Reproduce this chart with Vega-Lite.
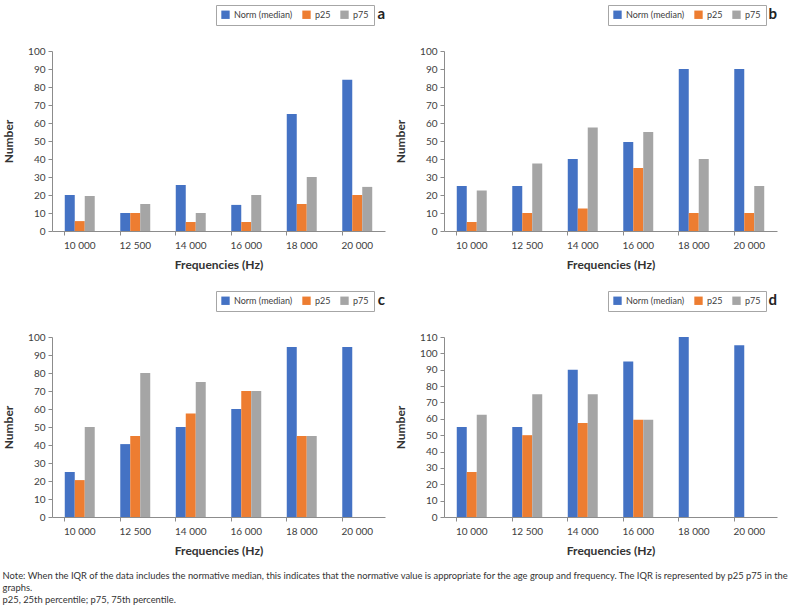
{
  "$schema": "https://vega.github.io/schema/vega-lite/v6.json",
  "padding": {"left": 2, "top": 4, "right": 0, "bottom": 0},
  "background": "white",
  "datasets": {
    "rows": [
      {"panel": "a", "freq": "10 000", "series": "Norm (median)", "value": 20},
      {"panel": "a", "freq": "10 000", "series": "p25", "value": 5.5},
      {"panel": "a", "freq": "10 000", "series": "p75", "value": 19.5},
      {"panel": "a", "freq": "12 500", "series": "Norm (median)", "value": 10},
      {"panel": "a", "freq": "12 500", "series": "p25", "value": 10},
      {"panel": "a", "freq": "12 500", "series": "p75", "value": 15},
      {"panel": "a", "freq": "14 000", "series": "Norm (median)", "value": 25.5},
      {"panel": "a", "freq": "14 000", "series": "p25", "value": 5},
      {"panel": "a", "freq": "14 000", "series": "p75", "value": 10},
      {"panel": "a", "freq": "16 000", "series": "Norm (median)", "value": 14.5},
      {"panel": "a", "freq": "16 000", "series": "p25", "value": 5},
      {"panel": "a", "freq": "16 000", "series": "p75", "value": 20},
      {"panel": "a", "freq": "18 000", "series": "Norm (median)", "value": 65},
      {"panel": "a", "freq": "18 000", "series": "p25", "value": 15},
      {"panel": "a", "freq": "18 000", "series": "p75", "value": 30},
      {"panel": "a", "freq": "20 000", "series": "Norm (median)", "value": 84},
      {"panel": "a", "freq": "20 000", "series": "p25", "value": 20},
      {"panel": "a", "freq": "20 000", "series": "p75", "value": 24.5},

      {"panel": "b", "freq": "10 000", "series": "Norm (median)", "value": 25},
      {"panel": "b", "freq": "10 000", "series": "p25", "value": 5},
      {"panel": "b", "freq": "10 000", "series": "p75", "value": 22.5},
      {"panel": "b", "freq": "12 500", "series": "Norm (median)", "value": 25},
      {"panel": "b", "freq": "12 500", "series": "p25", "value": 10},
      {"panel": "b", "freq": "12 500", "series": "p75", "value": 37.5},
      {"panel": "b", "freq": "14 000", "series": "Norm (median)", "value": 40},
      {"panel": "b", "freq": "14 000", "series": "p25", "value": 12.5},
      {"panel": "b", "freq": "14 000", "series": "p75", "value": 57.5},
      {"panel": "b", "freq": "16 000", "series": "Norm (median)", "value": 49.5},
      {"panel": "b", "freq": "16 000", "series": "p25", "value": 35},
      {"panel": "b", "freq": "16 000", "series": "p75", "value": 55},
      {"panel": "b", "freq": "18 000", "series": "Norm (median)", "value": 90},
      {"panel": "b", "freq": "18 000", "series": "p25", "value": 10},
      {"panel": "b", "freq": "18 000", "series": "p75", "value": 40},
      {"panel": "b", "freq": "20 000", "series": "Norm (median)", "value": 90},
      {"panel": "b", "freq": "20 000", "series": "p25", "value": 10},
      {"panel": "b", "freq": "20 000", "series": "p75", "value": 25},

      {"panel": "c", "freq": "10 000", "series": "Norm (median)", "value": 25},
      {"panel": "c", "freq": "10 000", "series": "p25", "value": 20.5},
      {"panel": "c", "freq": "10 000", "series": "p75", "value": 50},
      {"panel": "c", "freq": "12 500", "series": "Norm (median)", "value": 40.5},
      {"panel": "c", "freq": "12 500", "series": "p25", "value": 45},
      {"panel": "c", "freq": "12 500", "series": "p75", "value": 80},
      {"panel": "c", "freq": "14 000", "series": "Norm (median)", "value": 50},
      {"panel": "c", "freq": "14 000", "series": "p25", "value": 57.5},
      {"panel": "c", "freq": "14 000", "series": "p75", "value": 75},
      {"panel": "c", "freq": "16 000", "series": "Norm (median)", "value": 60},
      {"panel": "c", "freq": "16 000", "series": "p25", "value": 70},
      {"panel": "c", "freq": "16 000", "series": "p75", "value": 70},
      {"panel": "c", "freq": "18 000", "series": "Norm (median)", "value": 94.5},
      {"panel": "c", "freq": "18 000", "series": "p25", "value": 45},
      {"panel": "c", "freq": "18 000", "series": "p75", "value": 45},
      {"panel": "c", "freq": "20 000", "series": "Norm (median)", "value": 94.5},

      {"panel": "d", "freq": "10 000", "series": "Norm (median)", "value": 55},
      {"panel": "d", "freq": "10 000", "series": "p25", "value": 27.5},
      {"panel": "d", "freq": "10 000", "series": "p75", "value": 62.5},
      {"panel": "d", "freq": "12 500", "series": "Norm (median)", "value": 55},
      {"panel": "d", "freq": "12 500", "series": "p25", "value": 50},
      {"panel": "d", "freq": "12 500", "series": "p75", "value": 75},
      {"panel": "d", "freq": "14 000", "series": "Norm (median)", "value": 90},
      {"panel": "d", "freq": "14 000", "series": "p25", "value": 57.5},
      {"panel": "d", "freq": "14 000", "series": "p75", "value": 75},
      {"panel": "d", "freq": "16 000", "series": "Norm (median)", "value": 95},
      {"panel": "d", "freq": "16 000", "series": "p25", "value": 59.5},
      {"panel": "d", "freq": "16 000", "series": "p75", "value": 59.5},
      {"panel": "d", "freq": "18 000", "series": "Norm (median)", "value": 110},
      {"panel": "d", "freq": "20 000", "series": "Norm (median)", "value": 105}
    ]
  },
  "title": {
    "text": [
      "Note: When the IQR of the data includes the normative median, this indicates that the normative value is appropriate for the age group and frequency. The IQR is represented by p25 p75 in the",
      "graphs.",
      "p25, 25th percentile; p75, 75th percentile."
    ],
    "orient": "bottom",
    "anchor": "start",
    "frame": "bounds",
    "fontSize": 9.35,
    "fontWeight": "normal",
    "font": "Lato",
    "color": "#333333",
    "lineHeight": 12,
    "offset": 16
  },
  "columns": 2,
  "spacing": {"row": 20, "column": 9},
  "concat": [
    {
      "width": 333, "height": 180,
      "data": {"name": "rows"},
      "transform": [{"filter": "datum.panel === 'a'"}],
      "title": {"text": "a"},
      "mark": {"type": "bar"},
      "encoding": {
        "x": {"field": "freq", "type": "nominal", "sort": ["10 000", "12 500", "14 000", "16 000", "18 000", "20 000"], "scale": {"paddingInner": 0.46, "paddingOuter": 0.23}, "axis": {"title": "Frequencies (Hz)", "labelAngle": 0, "bandPosition": 0}},
        "xOffset": {"field": "series", "type": "nominal", "scale": {"domain": ["Norm (median)", "p25", "p75"]}},
        "y": {"field": "value", "type": "quantitative", "scale": {"domain": [0, 100]}, "axis": {"title": "Number", "values": [0, 10, 20, 30, 40, 50, 60, 70, 80, 90, 100]}},
        "color": {"field": "series", "type": "nominal", "scale": {"domain": ["Norm (median)", "p25", "p75"], "range": ["#4472C4", "#ED7D31", "#A5A5A5"]}, "legend": {"title": null}}
      }
    },
    {
      "width": 333, "height": 180,
      "data": {"name": "rows"},
      "transform": [{"filter": "datum.panel === 'b'"}],
      "title": {"text": "b"},
      "mark": {"type": "bar"},
      "encoding": {
        "x": {"field": "freq", "type": "nominal", "sort": ["10 000", "12 500", "14 000", "16 000", "18 000", "20 000"], "scale": {"paddingInner": 0.46, "paddingOuter": 0.23}, "axis": {"title": "Frequencies (Hz)", "labelAngle": 0, "bandPosition": 0}},
        "xOffset": {"field": "series", "type": "nominal", "scale": {"domain": ["Norm (median)", "p25", "p75"]}},
        "y": {"field": "value", "type": "quantitative", "scale": {"domain": [0, 100]}, "axis": {"title": "Number", "values": [0, 10, 20, 30, 40, 50, 60, 70, 80, 90, 100]}},
        "color": {"field": "series", "type": "nominal", "scale": {"domain": ["Norm (median)", "p25", "p75"], "range": ["#4472C4", "#ED7D31", "#A5A5A5"]}, "legend": {"title": null}}
      }
    },
    {
      "width": 333, "height": 180,
      "data": {"name": "rows"},
      "transform": [{"filter": "datum.panel === 'c'"}],
      "title": {"text": "c"},
      "mark": {"type": "bar"},
      "encoding": {
        "x": {"field": "freq", "type": "nominal", "sort": ["10 000", "12 500", "14 000", "16 000", "18 000", "20 000"], "scale": {"paddingInner": 0.46, "paddingOuter": 0.23}, "axis": {"title": "Frequencies (Hz)", "labelAngle": 0, "bandPosition": 0}},
        "xOffset": {"field": "series", "type": "nominal", "scale": {"domain": ["Norm (median)", "p25", "p75"]}},
        "y": {"field": "value", "type": "quantitative", "scale": {"domain": [0, 100]}, "axis": {"title": "Number", "values": [0, 10, 20, 30, 40, 50, 60, 70, 80, 90, 100]}},
        "color": {"field": "series", "type": "nominal", "scale": {"domain": ["Norm (median)", "p25", "p75"], "range": ["#4472C4", "#ED7D31", "#A5A5A5"]}, "legend": {"title": null}}
      }
    },
    {
      "width": 333, "height": 180,
      "data": {"name": "rows"},
      "transform": [{"filter": "datum.panel === 'd'"}],
      "title": {"text": "d"},
      "mark": {"type": "bar"},
      "encoding": {
        "x": {"field": "freq", "type": "nominal", "sort": ["10 000", "12 500", "14 000", "16 000", "18 000", "20 000"], "scale": {"paddingInner": 0.46, "paddingOuter": 0.23}, "axis": {"title": "Frequencies (Hz)", "labelAngle": 0, "bandPosition": 0}},
        "xOffset": {"field": "series", "type": "nominal", "scale": {"domain": ["Norm (median)", "p25", "p75"]}},
        "y": {"field": "value", "type": "quantitative", "scale": {"domain": [0, 110]}, "axis": {"title": "Number", "values": [0, 10, 20, 30, 40, 50, 60, 70, 80, 90, 100, 110]}},
        "color": {"field": "series", "type": "nominal", "scale": {"domain": ["Norm (median)", "p25", "p75"], "range": ["#4472C4", "#ED7D31", "#A5A5A5"]}, "legend": {"title": null}}
      }
    }
  ],
  "resolve": {"scale": {"color": "independent", "y": "independent", "x": "independent"}, "legend": {"color": "independent"}},
  "config": {
    "font": "Lato",
    "view": {"stroke": null},
    "axis": {
      "grid": false,
      "domainColor": "#8c8c8c",
      "tickColor": "#8c8c8c",
      "tickSize": 4,
      "labelFont": "Lato",
      "labelFontSize": 10,
      "labelColor": "#404040",
      "titleFont": "Lato",
      "titleFontSize": 12,
      "titleFontWeight": "bold",
      "titleColor": "#333333"
    },
    "axisX": {"labelPadding": 5, "titlePadding": 9},
    "axisY": {"titlePadding": 12, "labelPadding": 3},
    "legend": {
      "orient": "none",
      "legendX": 164,
      "legendY": -46,
      "direction": "horizontal",
      "strokeColor": "#a6a6a6",
      "padding": 5,
      "symbolType": "square",
      "symbolSize": 70,
      "symbolStrokeWidth": 0,
      "labelFont": "Lato",
      "labelFontSize": 9,
      "labelColor": "#404040",
      "columnPadding": 9
    },
    "title": {
      "anchor": "end",
      "frame": "group",
      "fontSize": 15,
      "fontWeight": "bold",
      "font": "Lato",
      "color": "#222222",
      "offset": -17
    }
  }
}
